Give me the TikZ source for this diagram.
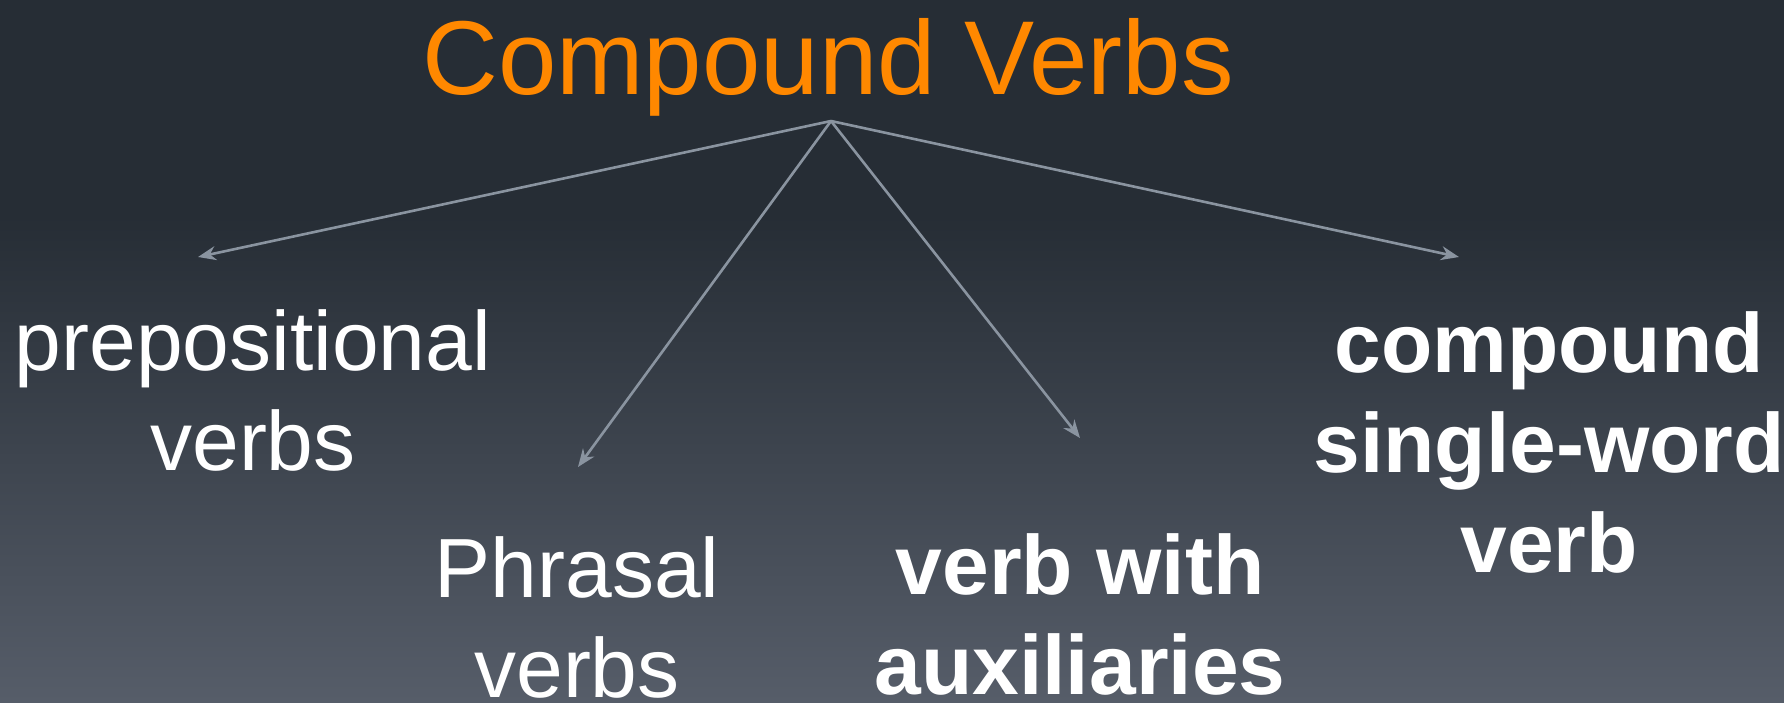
\documentclass[tikz,border=0pt]{standalone}
\usepackage{fontspec}
\setmainfont{Liberation Sans}
\usetikzlibrary{arrows.meta}
\definecolor{bgtop}{HTML}{262D35}
\definecolor{bgbot}{HTML}{565D69}
\definecolor{titleorange}{HTML}{FF8800}
\definecolor{linkgray}{HTML}{8A94A0}
\begin{document}
\begin{tikzpicture}[x=1pt,y=-1pt,
  leaf/.style={text=white, align=center, inner sep=0pt, anchor=base,
    font=\fontsize{84}{100}\selectfont},
  boldleaf/.style={leaf, font=\fontsize{84}{100}\selectfont\bfseries},
  heading/.style={text=titleorange, inner sep=0pt, anchor=base,
    font=\fontsize{105}{120}\selectfont},
  link/.style={draw=linkgray, line width=2.6pt,
    -{Stealth[length=18pt,width=14pt]}}]
  % background: flat dark band, then a soft gradient towards the bottom
  \useasboundingbox (0,0) rectangle (1784,702);
  \fill[bgtop] (0,0) rectangle (1784,216);
  \shade[top color=bgtop, bottom color=bgbot] (0,215) rectangle (1784,702);

  % heading and the four kinds of compound verbs
  % (the base anchor of a multi-line node sits on its last line)
  \node[heading] (title) at (828,94) {Compound Verbs};
  \node[leaf] (prep) at (253,470) {prepositional\\verbs};
  \node[leaf] (phrasal) at (577,697) {Phrasal\\verbs};
  \node[boldleaf] (aux) at (1080,694) {verb with\\auxiliaries};
  \node[boldleaf] (single) at (1549,572) {compound\\single-word\\verb};

  % branching point under the heading and arrow tips above each item
  \coordinate (hub) at (831,121);
  \coordinate (prepTip) at (198,257);
  \coordinate (phrasalTip) at (578,467);
  \coordinate (auxTip) at (1080,438);
  \coordinate (singleTip) at (1459,257);

  \draw[link] (hub) -- (prepTip);
  \draw[link] (hub) -- (phrasalTip);
  \draw[link] (hub) -- (auxTip);
  \draw[link] (hub) -- (singleTip);
\end{tikzpicture}
\end{document}
